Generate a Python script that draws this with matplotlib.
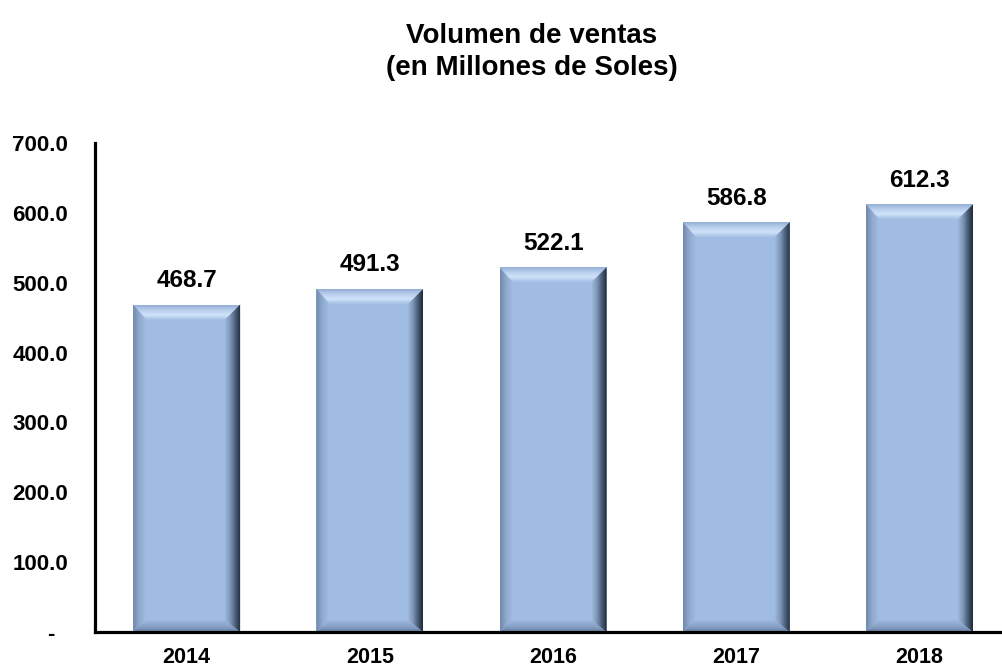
import numpy as np
import matplotlib
matplotlib.use("Agg")
import matplotlib.pyplot as plt
from matplotlib.patches import Polygon
from matplotlib.colors import LinearSegmentedColormap

plt.rcParams['font.family'] = ['Liberation Sans', 'DejaVu Sans']

years = ['2014', '2015', '2016', '2017', '2018']
values = [468.7, 491.3, 522.1, 586.8, 612.3]
yticks = [0, 100, 200, 300, 400, 500, 600, 700]
ytick_labels = ['-  ', '100.0', '200.0', '300.0', '400.0', '500.0', '600.0', '700.0']
title = 'Volumen de ventas\n(en Millones de Soles)'

W, H = 1002, 669
fig = plt.figure(figsize=(W / 100, H / 100), dpi=100)
ax_l, ax_r, ax_b, ax_t = 95, 1002, 632, 143
ax = fig.add_axes([ax_l / W, (H - ax_b) / H, (ax_r - ax_l) / W, (ax_b - ax_t) / H])

XMIN, XMAX = -0.5, 4.45
YMIN, YMAX = 0, 700
x = np.arange(len(years))
bars = ax.bar(x, values, width=0.584, color='#A0BCE3', edgecolor='none', zorder=2)

px_x = (XMAX - XMIN) / (ax_r - ax_l)
px_y = (YMAX - YMIN) / (ax_b - ax_t)

def grad_fill(poly_pts, colors, direction, zorder=3):
    poly = Polygon(poly_pts, closed=True, facecolor='none', edgecolor='none')
    ax.add_patch(poly)
    xs = [p[0] for p in poly_pts]
    ys = [p[1] for p in poly_pts]
    cmap = LinearSegmentedColormap.from_list('g', colors)
    n = 64
    g = np.linspace(0, 1, n)
    if direction == 'h':
        img = np.tile(g, (2, 1))
    else:
        img = np.tile(g[:, None], (1, 2))
    im = ax.imshow(img, extent=[min(xs), max(xs), min(ys), max(ys)], origin='lower',
                   cmap=cmap, aspect='auto', interpolation='bilinear', zorder=zorder)
    im.set_clip_path(poly)

for b in bars:
    x0 = b.get_x()
    x1 = x0 + b.get_width()
    y0 = 0
    y1 = b.get_height()
    bt = 15 * px_y   # top bevel
    bb = 12 * px_y   # bottom bevel
    bl = 13 * px_x   # left bevel
    br = 15 * px_x   # right bevel
    grad_fill([(x0, y1), (x1, y1), (x1 - br, y1 - bt), (x0 + bl, y1 - bt)],
              ['#A4C0E6', '#CFE3F8', '#B8CFEE', '#94ADD2'], 'v')
    grad_fill([(x0, y0), (x1, y0), (x1 - br, y0 + bb), (x0 + bl, y0 + bb)],
              ['#6A81A3', '#8AA3C8', '#9DB7DD'], 'v')
    grad_fill([(x0, y0), (x0 + bl, y0 + bb), (x0 + bl, y1 - bt), (x0, y1)],
              ['#7088AB', '#90AAD0', '#A0BCE2'], 'h')
    grad_fill([(x1, y0), (x1 - br, y0 + bb), (x1 - br, y1 - bt), (x1, y1)],
              ['#9DB8DD', '#7D95B8', '#4A5C76', '#1E2A38'], 'h')
    ax.text(b.get_x() + b.get_width() / 2, y1 + 24 * px_y, f'{y1:.1f}',
            ha='center', va='center', fontsize=17.5, fontweight='bold', color='black')

ax.set_xlim(XMIN, XMAX)
ax.set_ylim(YMIN, YMAX)
ax.set_xticks(x)
ax.set_xticklabels(years, fontsize=15.5, fontweight='bold')
ax.set_yticks(yticks)
ax.set_yticklabels(ytick_labels, fontsize=16, fontweight='bold')
ax.tick_params(axis='both', length=0)
ax.tick_params(axis='y', pad=19.5)
ax.tick_params(axis='x', pad=10.5)
for s in ['top', 'right']:
    ax.spines[s].set_visible(False)
for s in ['left', 'bottom']:
    ax.spines[s].set_linewidth(2.3)
    ax.spines[s].set_color('black')
    ax.spines[s].set_zorder(5)
ax.set_facecolor('none')

fig.text(532 / W, 1 - 52 / H, title, ha='center', va='center', fontsize=20,
         fontweight='bold', linespacing=1.3)

fig.savefig('out.png', dpi=100, facecolor='white')
